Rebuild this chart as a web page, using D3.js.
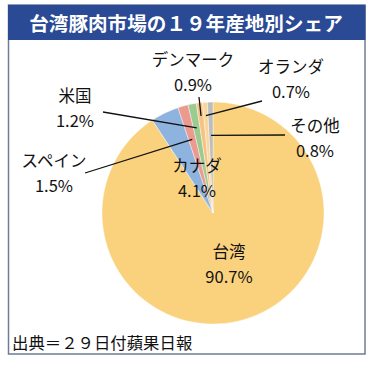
<!DOCTYPE html>
<html><head><meta charset="utf-8">
<script src="https://cdn.jsdelivr.net/npm/d3@7/dist/d3.min.js"></script>
<style>body{margin:0;background:#fff;}svg{display:block;}</style>
</head><body>
<script>
const title = "台湾豚肉市場の１９年産地別シェア";
const source = "出典＝２９日付蘋果日報";
const categories = ["台湾", "カナダ", "スペイン", "米国", "デンマーク", "オランダ", "その他"];
const shares = [90.7, 4.1, 1.5, 1.2, 0.9, 0.7, 0.8];
const colors = ["#FAD27E", "#8DB3DE", "#EC9A90", "#9CCB91", "#F6C383", "#F9D69C", "#BDBDBD"];

// layout: label anchor (center x, baseline y of name), optional leader line
const labelLayout = {
  "台湾":     {x: 229, y: 258},
  "カナダ":   {x: 197, y: 172},
  "スペイン": {x: 54,  y: 167, lx: 85,  ly: 173, r: 0.69},
  "米国":     {x: 75,  y: 102, lx: 103, ly: 112, r: 0.78},
  "デンマーク": {x: 193, y: 66, lx: 199, ly: 97, r: 0.88},
  "オランダ": {x: 291, y: 73,  lx: 262, ly: 101, r: 0.88},
  "その他":   {x: 315, y: 132, lx: 285, ly: 135, r: 0.70}
};

const W = 376, H = 368;
const cx = 213, cy = 213, R = 111;
const font = "'Noto Sans CJK JP', 'Noto Sans', sans-serif";

const svg = d3.select("body").append("svg").attr("width", W).attr("height", H);

// frame
svg.append("rect").attr("x", 8.5).attr("y", 5).attr("width", 356.5).attr("height", 349)
  .attr("fill", "#fff").attr("stroke", "#6E7C96").attr("stroke-width", 1.5);
svg.append("rect").attr("x", 8).attr("y", 5).attr("width", 357.5).attr("height", 35).attr("fill", "#2B4A96");
svg.append("text").attr("x", 186).attr("y", 31).attr("text-anchor", "middle")
  .attr("fill", "#fff").attr("font-family", font).attr("font-weight", "bold")
  .attr("font-size", 19.6).text(title);

const data = categories.map((c, i) => ({name: c, value: shares[i], color: colors[i]}));
const pie = d3.pie().value(d => d.value).sort(null);
const arcs = pie(data);
const arc = d3.arc().innerRadius(0).outerRadius(R);

const g = svg.append("g").attr("transform", `translate(${cx},${cy})`);
g.selectAll("path").data(arcs).join("path")
  .attr("d", arc).attr("fill", d => d.data.color)
  .attr("stroke", "#fff").attr("stroke-width", 0.4);

// labels
const lg = svg.append("g").attr("font-family", font).attr("font-size", 16.5).attr("fill", "#111");
arcs.forEach(a => {
  const L = labelLayout[a.data.name];
  if (L.lx !== undefined) {
    const mid = (a.startAngle + a.endAngle) / 2;
    const px = cx + Math.sin(mid) * R * L.r;
    const py = cy - Math.cos(mid) * R * L.r;
    svg.append("line").attr("x1", L.lx).attr("y1", L.ly).attr("x2", px).attr("y2", py)
      .attr("stroke", "#111").attr("stroke-width", 1.3);
  }
  lg.append("text").attr("x", L.x).attr("y", L.y).attr("text-anchor", "middle").text(a.data.name);
  lg.append("text").attr("x", L.x).attr("y", L.y + 25).attr("text-anchor", "middle")
    .text(d3.format(".1f")(a.data.value) + "%");
});
svg.selectAll("line").raise();
lg.raise();

svg.append("text").attr("x", 12).attr("y", 349).attr("font-family", font)
  .attr("font-size", 16.4).attr("fill", "#111").text(source);
</script>
</body></html>
